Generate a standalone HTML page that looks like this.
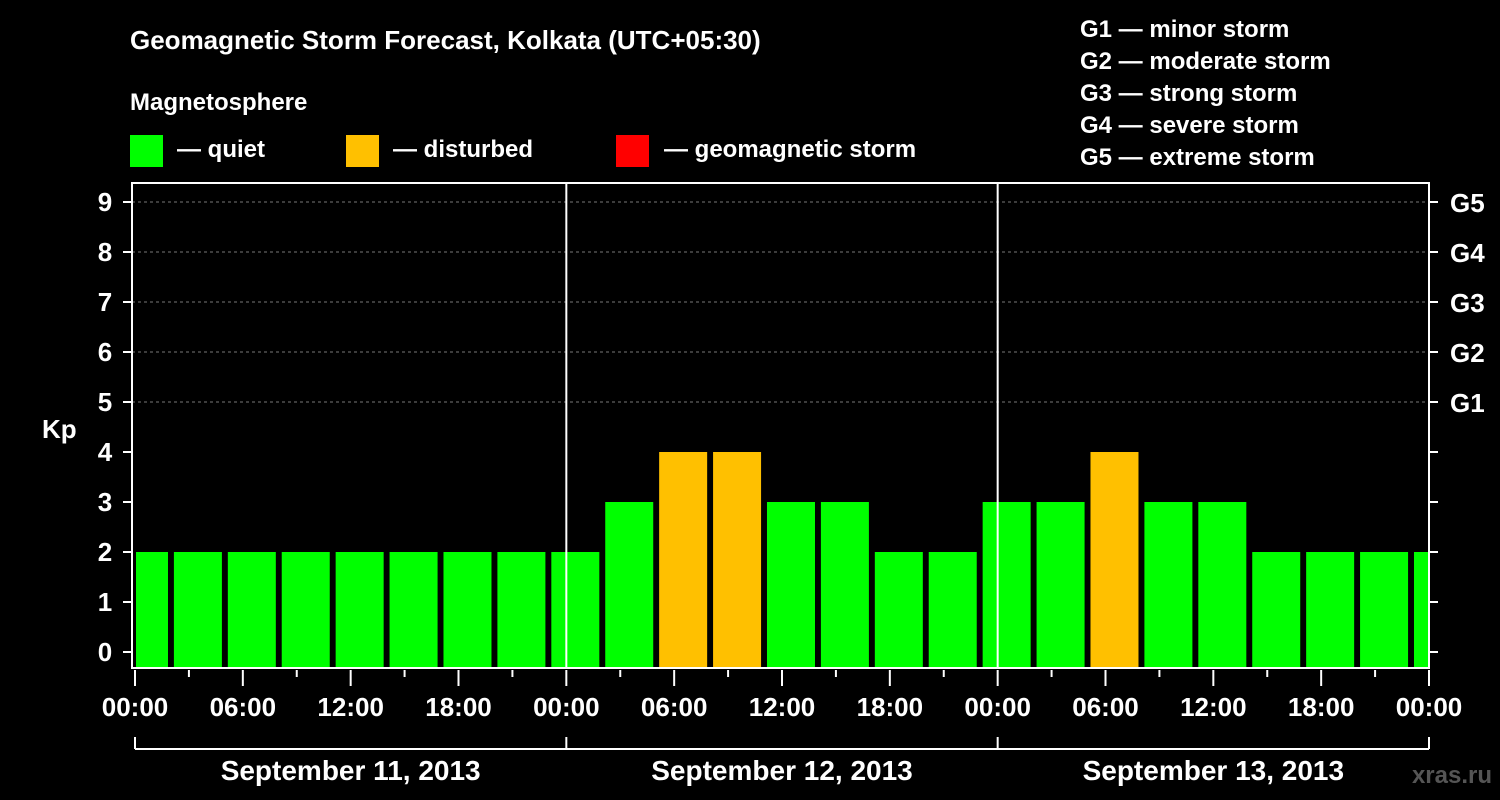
<!DOCTYPE html>
<html><head><meta charset="utf-8"><style>
body{margin:0;background:#000;}
svg{display:block;font-family:"Liberation Sans",sans-serif;font-weight:bold;}
</style></head><body>
<svg width="1500" height="800" viewBox="0 0 1500 800">
<rect width="1500" height="800" fill="#000"/>
<text x="130" y="49" fill="#fff" font-size="26">Geomagnetic Storm Forecast, Kolkata (UTC+05:30)</text>
<text x="130" y="110" fill="#fff" font-size="24">Magnetosphere</text>
<g><rect x="130" y="135" width="33" height="32" fill="#00ff00"/><text x="177" y="157" fill="#fff" font-size="24">— quiet</text></g>
<g><rect x="346" y="135" width="33" height="32" fill="#ffc000"/><text x="393" y="157" fill="#fff" font-size="24">— disturbed</text></g>
<g><rect x="616" y="135" width="33" height="32" fill="#ff0000"/><text x="664" y="157" fill="#fff" font-size="24">— geomagnetic storm</text></g>
<g fill="#fff" font-size="24">
<text x="1080" y="37">G1 — minor storm</text><text x="1080" y="69">G2 — moderate storm</text><text x="1080" y="101">G3 — strong storm</text><text x="1080" y="133">G4 — severe storm</text><text x="1080" y="165">G5 — extreme storm</text>
</g>
<text x="42" y="438" fill="#fff" font-size="26">Kp</text>
<text x="1492" y="783" fill="#555" font-size="24" text-anchor="end">xras.ru</text>
<g id="plot"></g>
</svg>
<script>
const kpValues=[2,2,2,2,2,2,2,2,2,3,4,4,3,3,2,2,3,3,4,3,3,2,2,2,2];
const yTicks=[0,1,2,3,4,5,6,7,8,9];
const gLabels=["G1","G2","G3","G4","G5"];
const xTickLabels=["00:00","06:00","12:00","18:00","00:00","06:00","12:00","18:00","00:00","06:00","12:00","18:00","00:00"];
const dayLabels=["September 11, 2013","September 12, 2013","September 13, 2013"];
const NS="http://www.w3.org/2000/svg";
const X0=135,X1=1429,PT=183,PB=668,LEFT=132;
const xs=h=>X0+h*(X1-X0)/72;
const ys=k=>652-50*k;
const g=document.getElementById('plot');
function mk(t,a,p){const e=document.createElementNS(NS,t);for(const k in a)e.setAttribute(k,a[k]);(p||g).appendChild(e);return e;}
// grid
yTicks.forEach(k=>{if(k>=5){const l=mk('line',{x1:LEFT,x2:X1,y1:ys(k),y2:ys(k),stroke:'#777','stroke-dasharray':'3,3'});

}});
// bars
kpValues.forEach((v,i)=>{const c=0.5+3*i;let a=Math.max(xs(c)-24,LEFT+4),b=Math.min(xs(c)+24,X1-1);
const r=mk('rect',{x:a,y:ys(v),width:b-a,height:PB-ys(v),fill:v>=5?'#ff0000':(v>=4?'#ffc000':'#00ff00')});

});
// day separators
[24,48].forEach(h=>{const l=mk('line',{x1:xs(h),x2:xs(h),y1:PT,y2:PB,stroke:'#fff','stroke-width':2});

});
// frame
const fr=mk('rect',{x:LEFT,y:PT,width:X1-LEFT,height:PB-PT,fill:'none',stroke:'#fff','stroke-width':2});


// y ticks
yTicks.forEach(k=>{mk('line',{x1:LEFT-9,x2:LEFT,y1:ys(k),y2:ys(k),stroke:'#fff','stroke-width':2});
mk('line',{x1:X1,x2:X1+9,y1:ys(k),y2:ys(k),stroke:'#fff','stroke-width':2});
const t=mk('text',{x:105,y:ys(k)+9,fill:'#fff','font-size':26,'text-anchor':'middle'});t.textContent=k;

});
gLabels.forEach((s,i)=>{const t=mk('text',{x:1450,y:ys(5+i)+10,fill:'#fff','font-size':26});t.textContent=s;

});
// x ticks
for(let h=0;h<=72;h+=3){const maj=h%6===0;mk('line',{x1:xs(h),x2:xs(h),y1:PB+2,y2:maj?686:677,stroke:'#fff','stroke-width':2});}
xTickLabels.forEach((s,i)=>{const t=mk('text',{x:xs(i*6),y:716,fill:'#fff','font-size':26,'text-anchor':'middle'});t.textContent=s;

});
// bracket
mk('line',{x1:X0,x2:X1,y1:749,y2:749,stroke:'#fff','stroke-width':2});
[0,24,48,72].forEach(h=>mk('line',{x1:xs(h),x2:xs(h),y1:737,y2:749,stroke:'#fff','stroke-width':2}));
dayLabels.forEach((s,i)=>{const t=mk('text',{x:xs(12+24*i),y:780,fill:'#fff','font-size':28,'text-anchor':'middle'});t.textContent=s;

});
</script>
</body></html>
